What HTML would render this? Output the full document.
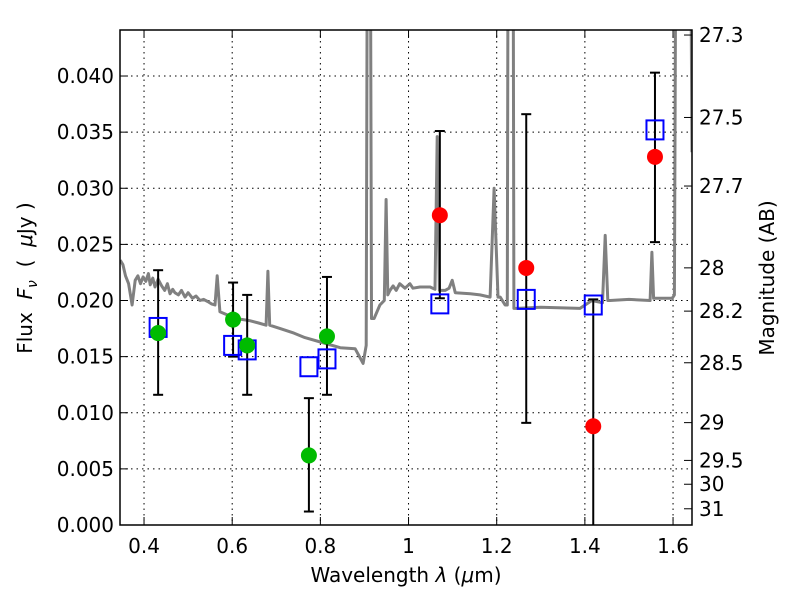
<!DOCTYPE html>
<html><head><meta charset="utf-8"><style>
body{margin:0;background:#fff;}
svg text{font-family:"DejaVu Sans","Liberation Sans",sans-serif;}
</style></head><body>
<svg id="chart" width="800" height="600" xmlns="http://www.w3.org/2000/svg">
<rect width="800" height="600" fill="#fff"/>
<g id="grid"></g>
<g id="spec"></g>
<g id="marks"></g>
<rect x="120" y="30" width="572" height="495" fill="none" stroke="#000" stroke-width="1.5"/>
<g id="axes"></g>
<text x="406" y="582" font-size="20" text-anchor="middle">Wavelength  <tspan font-style="italic">λ</tspan> (<tspan font-style="italic">μ</tspan>m)</text>
<text transform="translate(32,278) rotate(-90)" font-size="20" text-anchor="middle" xml:space="preserve">Flux  <tspan font-style="italic">F</tspan><tspan font-style="italic" font-size="14" dy="5">ν</tspan><tspan dy="-5">  (  </tspan><tspan font-style="italic">μ</tspan>Jy )</text>
<text transform="translate(774,278) rotate(-90)" font-size="20" text-anchor="middle">Magnitude (AB)</text>
</svg>
<script>
const xTicks=[0.4,0.6,0.8,1.0,1.2,1.4,1.6];
const xTickLabels=["0.4","0.6","0.8","1","1.2","1.4","1.6"];
const yTicks=[0,0.005,0.01,0.015,0.02,0.025,0.03,0.035,0.04];
const yTickLabels=["0.000","0.005","0.010","0.015","0.020","0.025","0.030","0.035","0.040"];
const magTicks=[27.3,27.5,27.7,28,28.2,28.5,29,29.5,30,31];
const magTickLabels=["27.3","27.5","27.7","28","28.2","28.5","29","29.5","30","31"];
const greenX=[0.432,0.602,0.634,0.774,0.815];
const greenY=[0.0171,0.0183,0.0160,0.0062,0.0168];
const redX=[1.071,1.267,1.419,1.559];
const redY=[0.0276,0.0229,0.0088,0.0328];
const blueX=[0.432,0.601,0.634,0.774,0.815,1.071,1.267,1.419,1.559];
const blueY=[0.0176,0.0160,0.0156,0.0141,0.0148,0.0197,0.0201,0.0196,0.0352];
const errX=[0.432,0.602,0.634,0.774,0.815,1.071,1.267,1.419,1.559];
const errLo=[0.0116,0.0150,0.0116,0.0012,0.0116,0.0202,0.0091,-0.002,0.0252];
const errHi=[0.0227,0.0216,0.0205,0.0113,0.0221,0.0351,0.0366,0.0201,0.0403];
const specX=[0.346,0.352,0.358,0.365,0.373,0.380,0.386,0.392,0.398,0.404,0.410,0.414,0.420,0.425,0.432,0.440,0.447,0.453,0.459,0.465,0.470,0.478,0.485,0.493,0.500,0.510,0.518,0.527,0.535,0.545,0.553,0.561,0.566,0.572,0.590,0.606,0.625,0.640,0.660,0.677,0.681,0.685,0.709,0.740,0.765,0.800,0.845,0.879,0.897,0.904,0.907,0.913,0.916,0.922,0.935,0.945,0.949,0.953,0.958,0.965,0.972,0.980,0.992,1.003,1.010,1.026,1.049,1.060,1.065,1.070,1.083,1.092,1.099,1.106,1.140,1.162,1.185,1.194,1.203,1.208,1.219,1.224,1.226,1.237,1.239,1.246,1.300,1.389,1.416,1.440,1.446,1.452,1.457,1.500,1.548,1.552,1.556,1.566,1.598,1.603,1.607,1.639,1.643];
const specY=[0.0236,0.0232,0.0222,0.0215,0.0196,0.0218,0.0222,0.0215,0.0221,0.0217,0.0224,0.0214,0.0220,0.0212,0.0219,0.0213,0.0209,0.0215,0.0206,0.0210,0.0207,0.0205,0.0209,0.0203,0.0207,0.0202,0.0204,0.0200,0.0201,0.0199,0.0197,0.0196,0.0222,0.0190,0.0187,0.0184,0.0183,0.0182,0.0180,0.0178,0.0226,0.0178,0.0175,0.0171,0.0167,0.0163,0.0158,0.0157,0.0144,0.0160,0.0600,0.0600,0.0184,0.0184,0.0196,0.0200,0.0290,0.0205,0.0209,0.0213,0.0209,0.0215,0.0211,0.0215,0.0211,0.0212,0.0212,0.0210,0.0346,0.0209,0.0209,0.0211,0.0218,0.0207,0.0206,0.0205,0.0203,0.0300,0.0203,0.0203,0.0196,0.0196,0.0600,0.0600,0.0193,0.0193,0.0194,0.0193,0.0200,0.0198,0.0258,0.0200,0.0200,0.0201,0.0200,0.0243,0.0202,0.0202,0.0202,0.0205,0.0600,0.0600,0.0332];
const X0=120,X1=692,Y0=525,Y1=30,xmin=0.3455,xmax=1.643,ymin=0,ymax=0.0441;
const NS="http://www.w3.org/2000/svg";
function sx(v){return X0+(v-xmin)/(xmax-xmin)*(X1-X0);}
function sy(v){return Y0-(v-ymin)/(ymax-ymin)*(Y0-Y1);}
function magToFlux(m){return Math.pow(10,(23.9-m)/2.5);}
function mk(tag,attrs,parent){const e=document.createElementNS(NS,tag);for(const k in attrs)e.setAttribute(k,attrs[k]);parent.appendChild(e);return e;}
const grid=document.getElementById('grid'),axes=document.getElementById('axes'),spec=document.getElementById('spec'),marks=document.getElementById('marks');
xTicks.forEach((t,i)=>{const x=sx(t);
 let g=mk('line',{x1:x,x2:x,y1:Y1,y2:Y0,stroke:'#000','stroke-width':1,'stroke-dasharray':'1.5,4'},grid);
 
 
 mk('line',{x1:x,x2:x,y1:Y0,y2:Y0-8,stroke:'#000','stroke-width':1},axes);
 mk('line',{x1:x,x2:x,y1:Y1,y2:Y1+8,stroke:'#000','stroke-width':1},axes);
 let tx=mk('text',{x:x,y:Y0+28,'font-size':20,'text-anchor':'middle'},axes);tx.textContent=xTickLabels[i];
 
 
});
yTicks.forEach((t,i)=>{const y=sy(t);
 if(t>0){let g=mk('line',{x1:X0,x2:X1,y1:y,y2:y,stroke:'#000','stroke-width':1,'stroke-dasharray':'1.5,4'},grid);
 
 }
 mk('line',{x1:X0,x2:X0+8,y1:y,y2:y,stroke:'#000','stroke-width':1},axes);
 let tx=mk('text',{x:X0-6,y:y+7,'font-size':20,'text-anchor':'end'},axes);tx.textContent=yTickLabels[i];
 
 
});
magTicks.forEach((m,i)=>{const y=sy(magToFlux(m));
 mk('line',{x1:X1,x2:X1-8,y1:y,y2:y,stroke:'#000','stroke-width':1},axes);
 let tx=mk('text',{x:X1+7,y:y+7,'font-size':20},axes);tx.textContent=magTickLabels[i];
 
 
});
const cp=mk('clipPath',{id:'cp'},spec);mk('rect',{x:X0,y:Y1,width:X1-X0,height:Y0-Y1},cp);
let pts=specX.map((v,i)=>sx(v).toFixed(1)+','+sy(specY[i]).toFixed(1)).join(' ');
const pl=mk('polyline',{points:pts,fill:'none',stroke:'#808080','stroke-width':3,'stroke-linejoin':'round','clip-path':'url(#cp)'},spec);


const mg=mk('g',{'clip-path':'url(#cp)'},marks);
errX.forEach((v,i)=>{const x=sx(v);
 const e=mk('g',{},mg);
 
 
 mk('line',{x1:x,x2:x,y1:sy(errLo[i]),y2:sy(errHi[i]),stroke:'#000','stroke-width':2},e);
 mk('line',{x1:x-5,x2:x+5,y1:sy(errLo[i]),y2:sy(errLo[i]),stroke:'#000','stroke-width':2},e);
 mk('line',{x1:x-5,x2:x+5,y1:sy(errHi[i]),y2:sy(errHi[i]),stroke:'#000','stroke-width':2},e);
});
blueX.forEach((v,i)=>{
 const r=mk('rect',{x:sx(v)-8.5,y:sy(blueY[i])-9.5,width:17,height:19,fill:'none',stroke:'#0000ff','stroke-width':2},mg);
 
 
});
greenX.forEach((v,i)=>{
 const c=mk('circle',{cx:sx(v),cy:sy(greenY[i]),r:8,fill:'#00bb00'},mg);
 
 
});
redX.forEach((v,i)=>{
 const c=mk('circle',{cx:sx(v),cy:sy(redY[i]),r:8,fill:'#ff0000'},mg);
 
 
});
</script>
</body></html>
